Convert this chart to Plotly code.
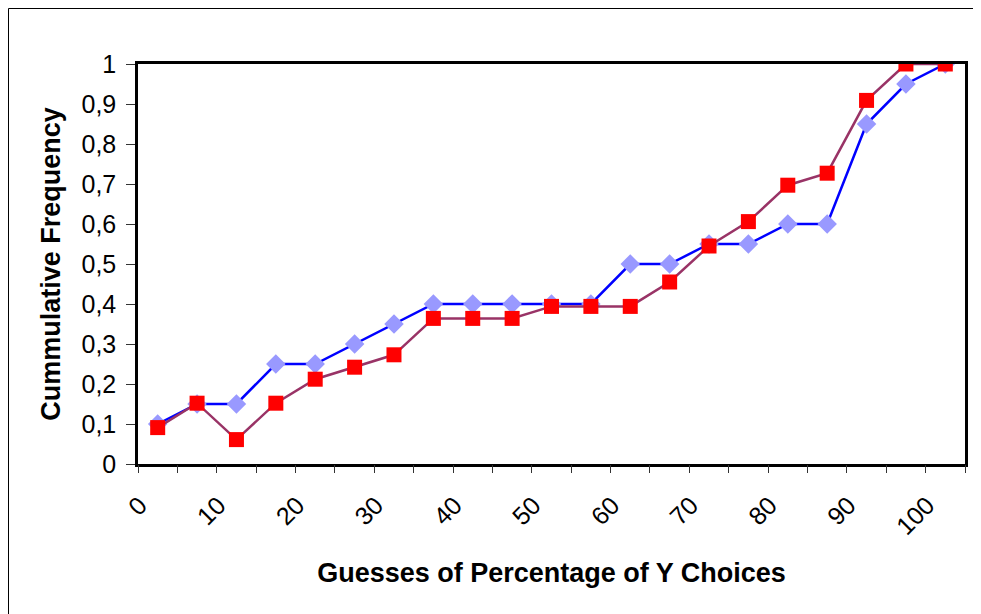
import plotly.graph_objects as go

guesses = [0, 5, 10, 15, 20, 25, 30, 35, 40, 45, 50, 55, 60, 65, 70, 75, 80, 85, 90, 95, 100]
series_a = [0.10, 0.15, 0.15, 0.25, 0.25, 0.30, 0.35, 0.40, 0.40, 0.40, 0.40, 0.40,
            0.50, 0.50, 0.55, 0.55, 0.60, 0.60, 0.85, 0.95, 1.00]
series_b = [0.091, 0.152, 0.061, 0.152, 0.212, 0.242, 0.273, 0.364, 0.364, 0.364, 0.394, 0.394,
            0.394, 0.455, 0.545, 0.606, 0.697, 0.727, 0.909, 1.000, 1.000]
x_labels = [0, 10, 20, 30, 40, 50, 60, 70, 80, 90, 100]
y_ticks = [0, 0.1, 0.2, 0.3, 0.4, 0.5, 0.6, 0.7, 0.8, 0.9, 1.0]

FONT = "Liberation Sans, Arial, sans-serif"

# figure is placed 8px into the page by the default body margin
W, H = 973, 606
ML, MR, MT, MB = 130, 16, 56, 150
PW, PH = W - ML - MR, H - MT - MB

fig = go.Figure()
fig.add_trace(go.Scatter(
    x=guesses, y=series_a, mode="lines+markers",
    line=dict(color="#0000FF", width=2.5),
    marker=dict(symbol="diamond", size=15, color="#9999FF"),
    showlegend=False))
fig.add_trace(go.Scatter(
    x=guesses, y=series_b, mode="lines+markers",
    line=dict(color="#993366", width=2.5),
    marker=dict(symbol="square", size=15, color="#FF0000"),
    showlegend=False))
fig.add_trace(go.Scatter(x=[], y=[], xaxis="x2", showlegend=False, hoverinfo="skip"))

step = guesses[1] - guesses[0]
xrange = [guesses[0] - step / 2, guesses[-1] + step / 2]

fig.update_layout(
    width=W, height=H,
    margin=dict(l=ML, r=MR, t=MT, b=MB),
    paper_bgcolor="white", plot_bgcolor="white",
    separators=", ",
    font=dict(family=FONT, size=25, color="black"),
    xaxis=dict(
        range=xrange, tickmode="array", tickvals=x_labels,
        ticktext=[str(v) for v in x_labels], tickangle=-45,
        ticks="", showgrid=False, zeroline=False, automargin=False,
        ticklabelshift=-18, ticklabelstandoff=14,
        showline=True, linecolor="black", linewidth=2.5, mirror=True,
        tickfont=dict(size=25),
        title=dict(text="<b>Guesses of Percentage of Y Choices</b>", font=dict(size=27), standoff=24),
    ),
    xaxis2=dict(
        range=xrange, overlaying="x", anchor="y", side="bottom",
        tickmode="linear", tick0=xrange[0], dtick=step,
        ticks="outside", ticklen=8, tickwidth=1, tickcolor="#333333",
        showticklabels=False, showgrid=False, zeroline=False, showline=False,
    ),
    yaxis=dict(
        range=[0, 1], tickmode="array", tickvals=y_ticks,
        ticks="outside", ticklen=9, tickwidth=1, tickcolor="#333333",
        showgrid=False, zeroline=False, automargin=False,
        ticklabelstandoff=5,
        showline=True, linecolor="black", linewidth=2.5, mirror=True,
        tickfont=dict(size=25),
        title=dict(text="<b>Cummulative Frequency</b>", font=dict(size=27), standoff=14),
    ),
    shapes=[dict(type="rect", xref="paper", yref="paper",
                 x0=-(ML - 0.5) / PW, x1=1.2, y0=-1.0, y1=1 + (MT - 0.5) / PH,
                 line=dict(color="black", width=1), fillcolor="rgba(0,0,0,0)", layer="below")],
)

fig.write_html("out.html")
